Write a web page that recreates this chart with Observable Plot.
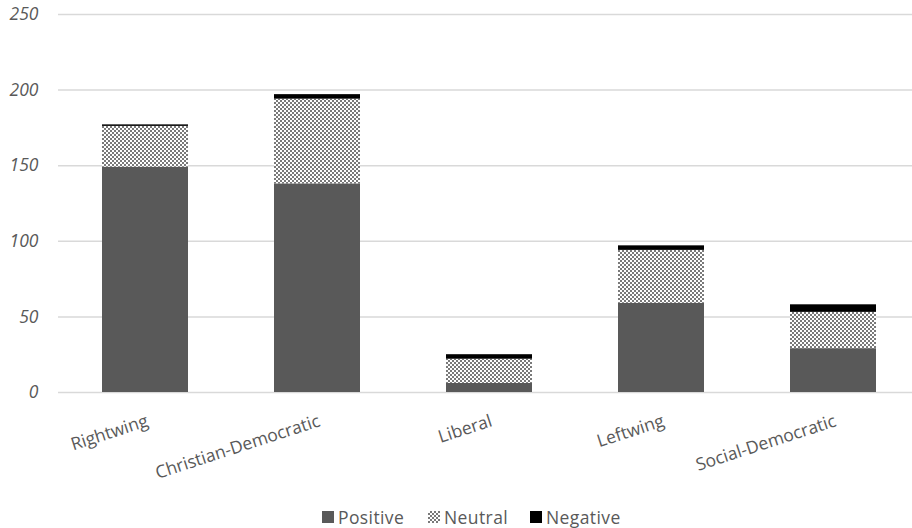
<!DOCTYPE html>
<html>
<head>
<meta charset="utf-8">
<script src="https://cdn.jsdelivr.net/npm/d3@7"></script>
<script src="https://cdn.jsdelivr.net/npm/@observablehq/plot@0.6"></script>
<style>
  html, body { margin: 0; padding: 0; background: #fff; overflow: hidden; }
  #chart { width: 912px; height: 528px; position: relative; font-family: "Open Sans", "Noto Sans", sans-serif; }
  .legend { position: absolute; left: 0; top: 506px; width: 912px; height: 22px; color: #595959; font-size: 17.5px; letter-spacing: 0.4px; }
  .legend .item { position: absolute; top: 0; display: flex; align-items: center; height: 22px; }
  .legend .sw { width: 12px; height: 12px; margin-right: 4px; }
</style>
</head>
<body>
<div id="chart"></div>
<script>
// Press coverage by party family, split by tone
const categories = ["Rightwing", "Christian-Democratic", "Liberal", "Leftwing", "Social-Democratic"];
const positive = [149, 138, 6, 59, 29];
const neutral = [27, 56, 16, 35, 24];
const negative = [1, 3, 3, 3, 5];
const tones = ["Positive", "Neutral", "Negative"];
const yTicks = [0, 50, 100, 150, 200, 250];

const rows = [];
categories.forEach((c, i) => {
  rows.push({party: c, tone: "Positive", value: positive[i]});
  rows.push({party: c, tone: "Neutral", value: neutral[i]});
  rows.push({party: c, tone: "Negative", value: negative[i]});
});

const W = 912, H = 500, ML = 58, MB = 108, MT = 14;

const plot = Plot.plot({
  width: W,
  height: H,
  marginLeft: ML,
  marginRight: 0,
  marginTop: MT,
  marginBottom: MB,
  style: {fontFamily: "Open Sans, Noto Sans, sans-serif", background: "#fff", overflow: "visible"},
  x: {domain: categories, range: [ML, 920.5], paddingInner: 0.5, paddingOuter: 0.25, label: null},
  y: {domain: [0, 250], label: null},
  color: {domain: tones, range: ["#595959", "url(#checks)", "#000000"]},
  marks: [
    Plot.ruleY(yTicks, {stroke: "#d9d9d9", strokeWidth: 1.5}),
    Plot.barY(rows, {x: "party", y: "value", fill: "tone", order: tones, inset: 0}),
    Plot.axisY({ticks: yTicks, tickSize: 0, tickPadding: 20, fontSize: 17.5, fontStyle: "italic", fill: "#595959", letterSpacing: 0.5, label: null}),
    Plot.axisX({tickSize: 0, tickRotate: -18, tickPadding: 28, fontSize: 17.5, fill: "#595959", letterSpacing: 0.8, dx: 2, label: null})
  ]
});

// checkerboard fill used by the Neutral segments
const svg = d3.select(plot);
const defs = svg.insert("defs", ":first-child");
const pat = defs.append("pattern")
  .attr("id", "checks").attr("patternUnits", "userSpaceOnUse")
  .attr("width", 4).attr("height", 4);
pat.append("rect").attr("width", 4).attr("height", 4).attr("fill", "#ffffff");
pat.append("rect").attr("x", 0).attr("y", 0).attr("width", 2).attr("height", 2).attr("fill", "#7a7a7a");
pat.append("rect").attr("x", 2).attr("y", 2).attr("width", 2).attr("height", 2).attr("fill", "#7a7a7a");

const chart = document.getElementById("chart");
chart.appendChild(plot);

// legend below the chart
const legend = document.createElement("div");
legend.className = "legend";
const items = [
  {label: "Positive", left: 322, fill: "#595959"},
  {label: "Neutral", left: 428, fill: "pattern"},
  {label: "Negative", left: 530, fill: "#000000"}
];
items.forEach(it => {
  const d = document.createElement("div");
  d.className = "item";
  d.style.left = it.left + "px";
  const sw = document.createElement("div");
  sw.className = "sw";
  if (it.fill === "pattern") {
    sw.style.background = "repeating-conic-gradient(#7a7a7a 0% 25%, #ffffff 0% 50%) 0 0 / 4px 4px";
  } else {
    sw.style.background = it.fill;
  }
  const t = document.createElement("span");
  t.textContent = it.label;
  d.appendChild(sw);
  d.appendChild(t);
  legend.appendChild(d);
});
chart.appendChild(legend);
</script>
</body>
</html>
